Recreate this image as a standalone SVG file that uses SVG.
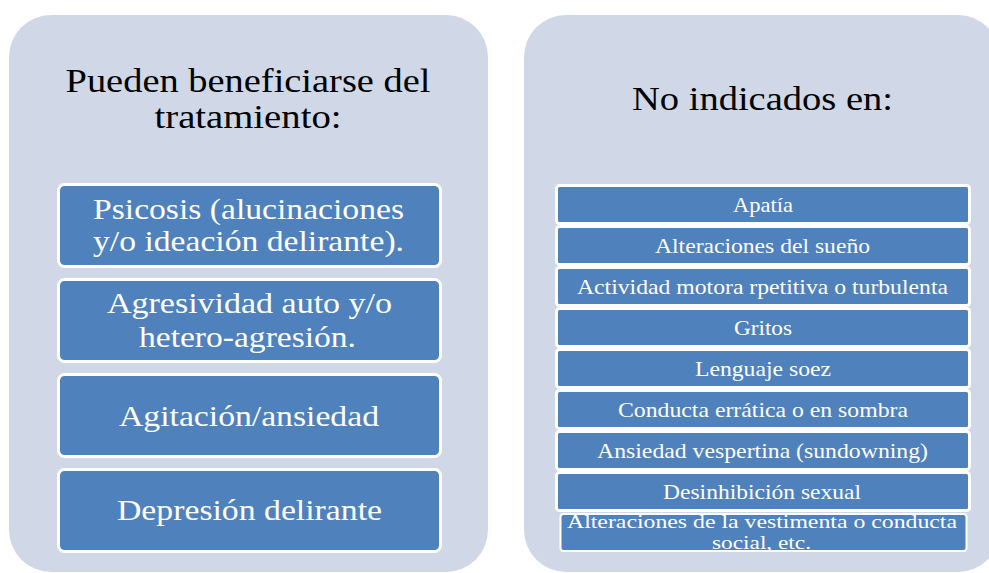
<svg xmlns="http://www.w3.org/2000/svg" width="989" height="573" viewBox="0 0 989 573">
<style>
.panel{fill:#D0D8E8;}
.box{fill:#4F81BD;stroke:#FFFFFF;stroke-width:3;}
.title{font-family:"Liberation Serif","Times New Roman",serif;font-size:33px;fill:#000000;text-anchor:middle;}
.lt{font-family:"Liberation Serif","Times New Roman",serif;font-size:30px;fill:#FFFFFF;text-anchor:middle;}
.rt{font-family:"Liberation Serif","Times New Roman",serif;font-size:22px;fill:#FFFFFF;text-anchor:middle;}
.rs{font-family:"Liberation Serif","Times New Roman",serif;font-size:19px;fill:#FFFFFF;text-anchor:middle;}
</style>
<defs>
<clipPath id="clipLast"><rect x="560" y="514" width="407" height="37"/></clipPath>
</defs>
<rect width="989" height="573" fill="#FFFFFF"/>

<g id="panel-left">
<rect class="panel" x="9" y="15" width="479" height="557" rx="42" ry="42"/>
<text class="title" x="248" y="92" textLength="365" lengthAdjust="spacingAndGlyphs">Pueden beneficiarse del</text>
<text class="title" x="248" y="128" textLength="187" lengthAdjust="spacingAndGlyphs">tratamiento:</text>
</g>

<g id="left-psicosis">
<rect class="box" x="58.5" y="184.5" width="382" height="82" rx="6"/>
<text class="lt" x="248.5" y="219" textLength="311" lengthAdjust="spacingAndGlyphs">Psicosis (alucinaciones</text>
<text class="lt" x="248.5" y="251" textLength="311" lengthAdjust="spacingAndGlyphs">y/o ideación delirante).</text>
</g>
<g id="left-agresividad">
<rect class="box" x="58.5" y="279.5" width="382" height="82" rx="6"/>
<text class="lt" x="249.5" y="313" textLength="285" lengthAdjust="spacingAndGlyphs">Agresividad auto y/o</text>
<text class="lt" x="247.5" y="347" textLength="217" lengthAdjust="spacingAndGlyphs">hetero-agresión.</text>
</g>
<g id="left-agitacion">
<rect class="box" x="58.5" y="374.5" width="382" height="82" rx="6"/>
<text class="lt" x="249" y="426" textLength="260" lengthAdjust="spacingAndGlyphs">Agitación/ansiedad</text>
</g>
<g id="left-depresion">
<rect class="box" x="58.5" y="469.5" width="382" height="82" rx="6"/>
<text class="lt" x="249.5" y="520" textLength="265" lengthAdjust="spacingAndGlyphs">Depresión delirante</text>
</g>

<g id="panel-right">
<rect class="panel" x="524" y="15" width="476" height="557" rx="42" ry="42"/>
<text class="title" x="762.5" y="110" textLength="261" lengthAdjust="spacingAndGlyphs">No indicados en:</text>
</g>

<g id="right-apatia">
<rect class="box" x="556.5" y="185.5" width="413" height="38" rx="3"/>
<text class="rt" x="763" y="212" textLength="60" lengthAdjust="spacingAndGlyphs">Apatía</text>
</g>
<g id="right-sueno">
<rect class="box" x="556.5" y="226.5" width="413" height="38" rx="3"/>
<text class="rt" x="762.5" y="253" textLength="215" lengthAdjust="spacingAndGlyphs">Alteraciones del sueño</text>
</g>
<g id="right-actividad">
<rect class="box" x="556.5" y="267.5" width="413" height="38" rx="3"/>
<text class="rt" x="762.5" y="294" textLength="371" lengthAdjust="spacingAndGlyphs">Actividad motora rpetitiva o turbulenta</text>
</g>
<g id="right-gritos">
<rect class="box" x="556.5" y="308.5" width="413" height="38" rx="3"/>
<text class="rt" x="763" y="335" textLength="58" lengthAdjust="spacingAndGlyphs">Gritos</text>
</g>
<g id="right-lenguaje">
<rect class="box" x="556.5" y="349.5" width="413" height="38" rx="3"/>
<text class="rt" x="763" y="376" textLength="136" lengthAdjust="spacingAndGlyphs">Lenguaje soez</text>
</g>
<g id="right-conducta">
<rect class="box" x="556.5" y="390.5" width="413" height="38" rx="3"/>
<text class="rt" x="763" y="417" textLength="290" lengthAdjust="spacingAndGlyphs">Conducta errática o en sombra</text>
</g>
<g id="right-ansiedad">
<rect class="box" x="556.5" y="431.5" width="413" height="38" rx="3"/>
<text class="rt" x="762.5" y="458" textLength="331" lengthAdjust="spacingAndGlyphs">Ansiedad vespertina (sundowning)</text>
</g>
<g id="right-desinhibicion">
<rect class="box" x="556.5" y="472.5" width="413" height="38" rx="3"/>
<text class="rt" x="762" y="499" textLength="198" lengthAdjust="spacingAndGlyphs">Desinhibición sexual</text>
</g>
<g id="right-vestimenta">
<rect class="box" x="560.5" y="514" width="406" height="37" rx="3" style="stroke-width:2"/>
<g clip-path="url(#clipLast)">
<text class="rs" x="762" y="528" textLength="390" lengthAdjust="spacingAndGlyphs">Alteraciones de la vestimenta o conducta</text>
<text class="rs" x="761.5" y="549" textLength="99" lengthAdjust="spacingAndGlyphs">social, etc.</text>
</g>
</g>

<g id="connectors"></g>
</svg>
